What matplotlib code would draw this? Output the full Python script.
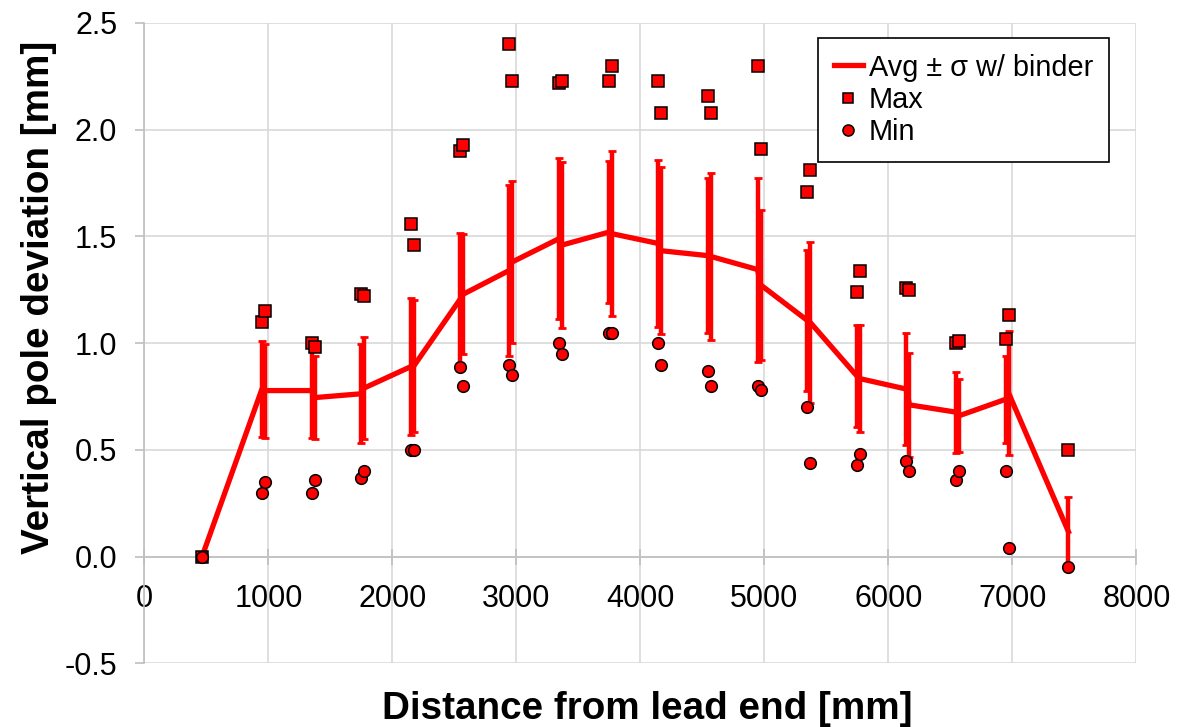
import numpy as np
import matplotlib
matplotlib.use("Agg")
import matplotlib.pyplot as plt

plt.rcParams['font.family'] = ['Liberation Sans', 'DejaVu Sans']
plt.rcParams['axes.unicode_minus'] = False

# first measurement at each station (incl. the two end points)
pos_a = [465, 948, 1348, 1748, 2148, 2548, 2940, 3345, 3745, 4145, 4545, 4945, 5345, 5745, 6145, 6545, 6945, 7452]
avg_a = [0.0, 0.785, 0.778, 0.763, 0.89, 1.207, 1.34, 1.49, 1.52, 1.467, 1.41, 1.345, 1.107, 0.847, 0.785, 0.677, 0.737, 0.117]
sd_a = [0.0, 0.226, 0.222, 0.232, 0.32, 0.31, 0.40, 0.377, 0.333, 0.392, 0.363, 0.431, 0.33, 0.238, 0.262, 0.19, 0.203, 0.164]
max_a = [0.0, 1.10, 1.00, 1.23, 1.56, 1.90, 2.40, 2.22, 2.23, 2.23, 2.16, 2.30, 1.71, 1.24, 1.26, 1.00, 1.02, 0.50]
min_a = [0.0, 0.30, 0.30, 0.37, 0.50, 0.89, 0.90, 1.00, 1.05, 1.00, 0.87, 0.80, 0.70, 0.43, 0.45, 0.36, 0.40, -0.05]

# second measurement at each station
pos_b = [973, 1373, 1773, 2173, 2573, 2965, 3370, 3770, 4170, 4570, 4970, 5370, 5770, 6170, 6570, 6970]
avg_b = [0.778, 0.745, 0.79, 0.893, 1.23, 1.38, 1.46, 1.513, 1.433, 1.406, 1.273, 1.097, 0.834, 0.711, 0.66, 0.766]
sd_b = [0.22, 0.195, 0.24, 0.307, 0.28, 0.38, 0.387, 0.385, 0.391, 0.39, 0.35, 0.379, 0.252, 0.242, 0.17, 0.289]
max_b = [1.15, 0.98, 1.22, 1.46, 1.93, 2.23, 2.23, 2.30, 2.08, 2.08, 1.91, 1.81, 1.34, 1.25, 1.01, 1.13]
min_b = [0.35, 0.36, 0.40, 0.50, 0.80, 0.85, 0.95, 1.05, 0.90, 0.80, 0.78, 0.44, 0.48, 0.40, 0.40, 0.04]

x_ticks = [0, 1000, 2000, 3000, 4000, 5000, 6000, 7000, 8000]
y_ticks = [-0.5, 0.0, 0.5, 1.0, 1.5, 2.0, 2.5]

x = np.concatenate([pos_a, pos_b])
avg = np.concatenate([avg_a, avg_b])
sd = np.concatenate([sd_a, sd_b])
mx = np.concatenate([max_a, max_b])
mn = np.concatenate([min_a, min_b])
order = np.argsort(x)
x, avg, sd, mx, mn = x[order], avg[order], sd[order], mx[order], mn[order]

fig = plt.figure(figsize=(12, 7.27), dpi=100)
ax = fig.add_axes([0.1203, 0.0875, 0.8267, 0.8809])

red = '#ff0000'
ax.errorbar(x, avg, yerr=sd, fmt='none', ecolor=red, elinewidth=3.2,
            capsize=2.6, capthick=2, zorder=3)
ax.plot(x, avg, color=red, lw=3.8, zorder=4, label='Avg ± σ w/ binder')
ax.plot(x, mx, ls='none', marker='s', ms=8.2, mfc=red, mec='black', mew=1.1,
        zorder=5, label='Max')
ax.plot(x, mn, ls='none', marker='o', ms=8.4, mfc=red, mec='black', mew=1.1,
        zorder=6, label='Min')

ax.set_xlim(0, 8000)
ax.set_ylim(-0.5, 2.5)
ax.set_xticks(x_ticks)
ax.set_yticks(y_ticks)
ax.set_yticklabels(['%.1f' % v for v in y_ticks])
ax.grid(True, color='#d9d9d9', lw=1.2, zorder=0)
ax.set_axisbelow(True)

for s in ['top', 'right']:
    ax.spines[s].set_visible(False)
ax.spines['bottom'].set_position(('data', 0))
ax.spines['bottom'].set_color('#bfbfbf')
ax.spines['left'].set_color('#bfbfbf')
ax.spines['bottom'].set_linewidth(1.2)
ax.spines['left'].set_linewidth(1.2)
ax.tick_params(axis='both', colors='#bfbfbf', labelcolor='black', labelsize=22,
               width=1.2)
ax.tick_params(axis='x', direction='inout', length=12, pad=14)
ax.tick_params(axis='y', direction='out', length=6.5, pad=13)

ax.set_xlabel('Distance from lead end [mm]', fontsize=27.8, fontweight='bold')
ax.xaxis.set_label_coords(0.507, -0.043)
ax.set_ylabel('Vertical pole deviation [mm]', fontsize=27.8, fontweight='bold')
ax.yaxis.set_label_coords(-0.088, 0.572)

leg = ax.legend(loc='upper left', bbox_to_anchor=(0.679, 0.977), fontsize=20.8,
                frameon=True, fancybox=False, edgecolor='black', framealpha=1,
                handlelength=1.0, handletextpad=0.2, borderpad=0.55,
                labelspacing=0.15, borderaxespad=0, markerscale=0.95)
leg.get_frame().set_linewidth(1.2)

fig.savefig('out.png', dpi=100, facecolor='white')
